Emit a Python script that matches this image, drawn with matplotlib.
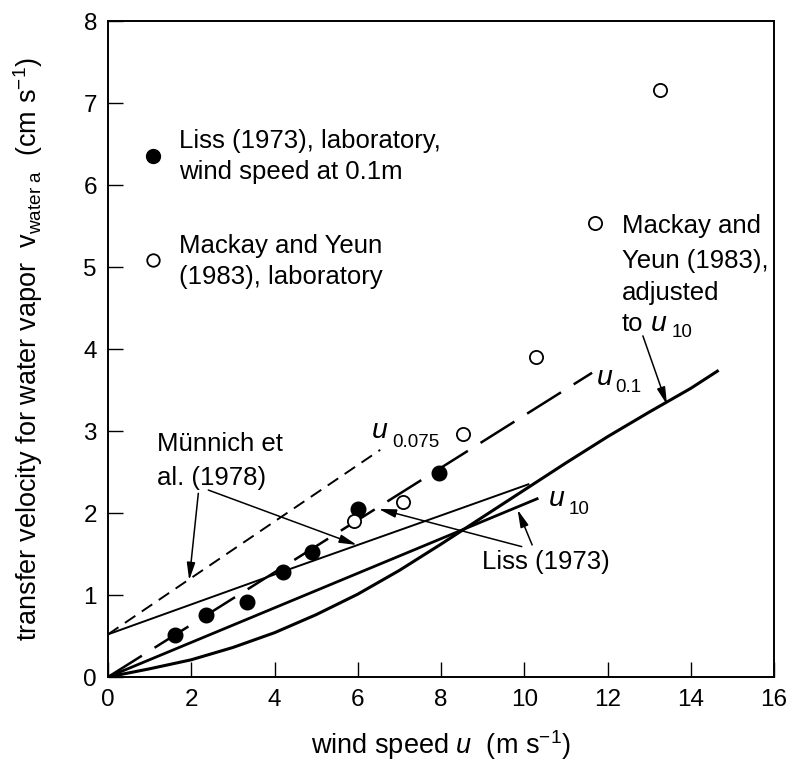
import matplotlib
matplotlib.use("Agg")
import matplotlib.pyplot as plt

plt.rcParams['font.family'] = ['Liberation Sans', 'DejaVu Sans']
plt.rcParams['mathtext.fontset'] = 'custom'
plt.rcParams['mathtext.rm'] = 'Liberation Sans'
plt.rcParams['mathtext.it'] = 'Liberation Sans:italic'
plt.rcParams['mathtext.bf'] = 'Liberation Sans:bold'

# Liss (1973), laboratory (filled dots)
liss_u = [1.6, 2.35, 3.35, 4.2, 4.9, 6.0, 7.95]
liss_v = [0.51, 0.76, 0.91, 1.28, 1.53, 2.05, 2.49]

# Mackay and Yeun (1983), laboratory (open dots)
mack_u = [5.9, 7.08, 8.52, 10.28, 11.71, 13.27]
mack_v = [1.90, 2.13, 2.96, 3.90, 5.54, 7.16]

# fitted lines
u01_u = [0.0, 11.63]              # long dashes, u_0.1
u01_v = [0.0, 3.71]
u0075_u = [0.0, 6.54]             # short dashes, u_0.075
u0075_v = [0.52, 2.77]
liss10_u = [0.0, 10.34]           # Liss (1973), u_10
liss10_v = [0.0, 2.18]
munn_u = [0.0, 4.0, 6.0, 8.0, 10.1]   # Munnich et al. (1978)
munn_v = [0.52, 1.25, 1.61, 1.97, 2.35]
# Mackay and Yeun adjusted to u_10
madj_u = [0, 1, 2, 3, 4, 5, 6, 7, 8, 9, 10, 11, 12, 13, 14, 14.67]
madj_v = [0.0, 0.10, 0.21, 0.36, 0.54, 0.76, 1.01, 1.30, 1.62, 1.95,
          2.28, 2.61, 2.93, 3.23, 3.52, 3.74]

xticks = [0, 2, 4, 6, 8, 10, 12, 14, 16]
yticks = [0, 1, 2, 3, 4, 5, 6, 7, 8]

fig = plt.figure(figsize=(7.9, 7.64), dpi=100)
ax = fig.add_axes([108/790, 87/764, 666/790, 656/764])

ax.plot(madj_u, madj_v, color='k', lw=2.2, solid_capstyle='butt')
ax.plot(liss10_u, liss10_v, color='k', lw=2.0, solid_capstyle='butt')
ax.plot(munn_u, munn_v, color='k', lw=1.4)
ax.plot(u0075_u, u0075_v, color='k', lw=1.4, dashes=(6.5, 4))
ax.plot(u01_u, u01_v, color='k', lw=1.8, dashes=(16, 6))

ax.plot(liss_u, liss_v, 'o', ms=10.5, color='k', zorder=5)
ax.plot(mack_u, mack_v, 'o', ms=9.5, mfc='white', mec='k', mew=1.3, zorder=5)

# legend-like labels inside the plot
ax.plot([1.08], [6.35], 'o', ms=10, color='k')
ax.plot([1.08], [5.09], 'o', ms=9, mfc='white', mec='k', mew=1.3)

fs = 18.5
texts = [
    (1.71, 6.455, "Liss (1973), laboratory,"),
    (1.71, 6.07, "wind speed at 0.1m"),
    (1.71, 5.165, "Mackay and Yeun"),
    (1.71, 4.79, "(1983), laboratory"),
    (12.35, 5.415, "Mackay and"),
    (12.35, 4.99, "Yeun (1983),"),
    (12.35, 4.60, "adjusted"),
    (12.35, 4.22, "to"),
    (1.18, 2.753, "M\u00fcnnich et"),
    (1.18, 2.34, "al. (1978)"),
    (8.99, 1.32, "Liss (1973)"),
]
for x, y, s in texts:
    ax.text(x, y, s, fontsize=fs, ha='left', va='baseline')

# u labels: (u x, u baseline, subscript, sub x, sub baseline)
ulabels = [
    (6.34, 2.915, "0.075", 6.82, 2.81),
    (11.74, 3.565, "0.1", 12.19, 3.48),
    (10.58, 2.08, "10", 11.07, 1.99),
    (13.03, 4.22, "10", 13.55, 4.15),
]
for ux, uy, sub, sx, sy in ulabels:
    ax.text(ux, uy, "u", fontsize=20.5, style='italic', ha='left', va='baseline')
    ax.text(sx, sy, sub, fontsize=13.5, ha='left', va='baseline')

# arrows: (tail, tip)
arrows = [
    ((2.17, 2.24), (1.95, 1.18)),
    ((2.41, 2.28), (5.98, 1.61)),
    ((9.94, 1.59), (6.50, 2.05)),
    ((10.19, 1.61), (9.84, 2.04)),
    ((12.85, 4.16), (13.43, 3.32)),
]
for tail, tip in arrows:
    ax.annotate('', xy=tip, xytext=tail,
                arrowprops=dict(arrowstyle='-|>,head_length=0.75,head_width=0.18',
                                mutation_scale=14, lw=1.1, color='k',
                                shrinkA=0, shrinkB=0))

ax.set_xlim(0, 16)
ax.set_ylim(0, 8)
ax.set_xticks(xticks)
ax.set_yticks(yticks)
ax.tick_params(direction='in', length=11, width=1.0, labelsize=17.5,
               top=False, right=False)
ax.tick_params(axis='x', pad=9)
ax.tick_params(axis='y', pad=8)
for sp in ax.spines.values():
    sp.set_linewidth(1.4)

ax.set_xlabel("wind speed $u$  (m s$^{-1}$)", fontsize=19.5)
ax.xaxis.set_label_coords(0.5, -0.078)
ax.set_ylabel("transfer velocity for water vapor  v$_{\\mathrm{water\\ a}}$  (cm s$^{-1}$)",
              fontsize=19.5)
ax.yaxis.set_label_coords(-0.095, 0.5)

fig.savefig("out.png", dpi=100)
